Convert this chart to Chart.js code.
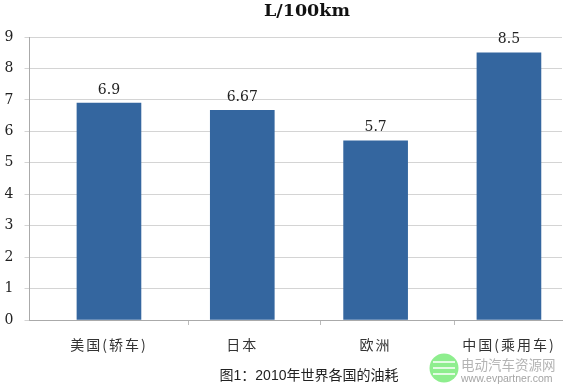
<!DOCTYPE html>
<html>
<head>
<meta charset="utf-8">
<style>
  html, body { margin: 0; padding: 0; background: #fff; }
  #wrap { position: relative; width: 567px; height: 392px; }
</style>
<script src="https://cdn.jsdelivr.net/npm/chart.js@4"></script>
</head>
<body>
<div id="wrap"><canvas id="chart"></canvas></div>
<script>
const categories = ['美国(轿车)', '日本', '欧洲', '中国(乘用车)'];
const consumption = [6.9, 6.67, 5.7, 8.5];
const valueLabels = ['6.9', '6.67', '5.7', '8.5'];
const yTicks = [0, 1, 2, 3, 4, 5, 6, 7, 8, 9];
// the picture's separators sit off the midpoints between bars
const xTickValues = [0, 0.6, 1, 1.59, 2, 2.588, 3];
const chartTitle = 'L/100km';
const caption = '图1：2010年世界各国的油耗';
const brandName = '电动汽车资源网';
const brandUrl = 'www.evpartner.com';

const SERIF = '"DejaVu Serif", serif';
const CJK = '"Noto Sans CJK SC", sans-serif';

// value labels above the bars, plus the title, caption and watermark
const extras = {
    id: 'extras',
    beforeDraw(chart) {
        // spreads the category labels like the original
        chart.ctx.letterSpacing = '2px';
    },
    afterDatasetsDraw(chart) {
        const c = chart.ctx;
        c.letterSpacing = '0px';
        c.save();
        c.textAlign = 'center';
        c.textBaseline = 'middle';
        c.fillStyle = '#222';
        c.font = '14px ' + SERIF;
        chart.getDatasetMeta(0).data.forEach((bar, i) => {
            c.fillText(valueLabels[i], bar.x, bar.y - 13);
        });

        c.font = 'bold 17.5px ' + SERIF;
        c.fillStyle = '#111';
        c.fillText(chartTitle, 307, 11);

        c.font = '14px "Liberation Sans", ' + CJK;
        c.fillStyle = '#222';
        c.fillText(caption, 309, 376);

        // watermark
        c.fillStyle = '#8eee8e';
        c.beginPath();
        c.arc(444, 368, 14.5, 0, Math.PI * 2);
        c.fill();
        c.strokeStyle = '#fff';
        c.lineWidth = 1.5;
        [362, 368, 374].forEach(y => {
            c.beginPath();
            c.moveTo(433, y);
            c.lineTo(455, y);
            c.stroke();
        });
        c.textAlign = 'left';
        c.fillStyle = '#b4b4b4';
        c.font = '13.5px ' + CJK;
        c.fillText(brandName, 461, 365);
        c.font = '10.5px "Liberation Sans", sans-serif';
        c.fillStyle = '#a4a4a4';
        c.fillText(brandUrl, 461, 379);
        c.restore();
    }
};

new Chart(document.getElementById('chart'), {
    type: 'bar',
    data: {
        datasets: [{
            data: consumption.map((v, i) => ({ x: i, y: v })),
            backgroundColor: '#34669f',
            barThickness: 64
        }]
    },
    options: {
        responsive: true,
        maintainAspectRatio: false,
        animation: false,
        layout: { padding: { top: 37, right: 5, left: 0, bottom: 0 } },
        plugins: { legend: { display: false }, tooltip: { enabled: false } },
        scales: {
            x: {
                type: 'linear',
                offset: false,
                min: -0.596,
                max: 3.398,
                afterBuildTicks(s) { s.ticks = xTickValues.map(v => ({ value: v })); },
                grid: {
                    offset: false,
                    drawOnChartArea: false,
                    tickLength: 5,
                    color: ctx => (ctx.tick && Number.isInteger(ctx.tick.value)) ? 'transparent' : '#bbb'
                },
                border: { color: '#aaa' },
                ticks: {
                    color: '#333',
                    font: { family: CJK, size: 14 },
                    padding: 11,
                    maxRotation: 0,
                    autoSkip: false,
                    callback: v => Number.isInteger(v) ? categories[v] : ''
                },
                afterFit(s) { s.height = 72; }
            },
            y: {
                min: 0,
                max: 9,
                afterBuildTicks(s) { s.ticks = yTicks.map(v => ({ value: v })); },
                grid: { color: '#d4d4d4', tickLength: 5 },
                border: { color: '#aaa' },
                ticks: { color: '#222', font: { family: SERIF, size: 14 }, padding: 9 },
                afterFit(s) { s.width = 29.5; }
            }
        }
    },
    plugins: [extras]
});
</script>
</body>
</html>
